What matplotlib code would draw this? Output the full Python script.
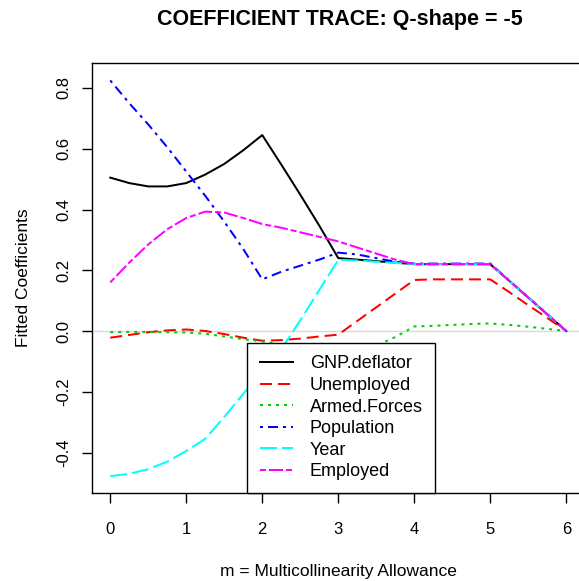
import numpy as np
import matplotlib
matplotlib.use("Agg")
import matplotlib.pyplot as plt

plt.rcParams['font.family'] = ['Liberation Sans', 'DejaVu Sans']
plt.rcParams['lines.scale_dashes'] = False

# multicollinearity allowance grid
m = np.arange(0, 6.01, 0.25)

names = ["GNP.deflator", "Unemployed", "Armed.Forces", "Population", "Year", "Employed"]

gnp = [0.505, 0.487, 0.476, 0.476, 0.487, 0.515, 0.550, 0.595, 0.645, 0.548, 0.449,
       0.347, 0.240, 0.235, 0.230, 0.225, 0.220, 0.220, 0.220, 0.220, 0.220, 0.165,
       0.110, 0.055, 0.0]
unemp = [-0.022, -0.013, -0.004, 0.002, 0.005, 0.000, -0.010, -0.022, -0.032, -0.030,
         -0.025, -0.018, -0.012, 0.033, 0.078, 0.123, 0.168, 0.170, 0.170, 0.170, 0.170,
         0.128, 0.085, 0.043, 0.0]
armed = [-0.004, -0.003, -0.003, -0.004, -0.005, -0.009, -0.018, -0.027, -0.034, -0.045,
         -0.062, -0.078, -0.087, -0.070, -0.048, -0.020, 0.015, 0.017, 0.020, 0.023, 0.025,
         0.020, 0.014, 0.007, 0.0]
popn = [0.825, 0.750, 0.680, 0.605, 0.525, 0.445, 0.360, 0.270, 0.170, 0.195, 0.215,
        0.235, 0.258, 0.252, 0.240, 0.228, 0.222, 0.222, 0.222, 0.222, 0.222, 0.166,
        0.111, 0.055, 0.0]
year = [-0.478, -0.470, -0.455, -0.430, -0.395, -0.355, -0.283, -0.207, -0.129, -0.060,
        0.035, 0.135, 0.234, 0.232, 0.228, 0.224, 0.220, 0.220, 0.220, 0.220, 0.220,
        0.165, 0.110, 0.055, 0.0]
employed = [0.160, 0.225, 0.285, 0.335, 0.372, 0.393, 0.390, 0.372, 0.352, 0.340, 0.325,
            0.310, 0.295, 0.275, 0.255, 0.235, 0.220, 0.220, 0.220, 0.220, 0.220, 0.165,
            0.110, 0.055, 0.0]

series = [gnp, unemp, armed, popn, year, employed]
colors = ["black", "#ff0000", "#00cd00", "#0000ff", "#00ffff", "#ff00ff"]
px = 0.72  # points per pixel at dpi 100
dashes = [None, (12, 6), (3, 5), (3, 5, 10, 5), (17, 5), (6, 3, 14, 3)]

fig = plt.figure(figsize=(5.79, 5.81), dpi=100)
ax = fig.add_axes([92 / 579, 88 / 581, 492.5 / 579, 430 / 581])

ax.axhline(0, color="#d9d9d9", lw=1)
for y, c, d, nm in zip(series, colors, dashes, names):
    ln, = ax.plot(m, y, color=c, lw=2 * px, label=nm)
    if d is not None:
        ln.set_dashes([v * px for v in d])

ax.set_xlim(-0.24, 6.24)
ax.set_ylim(-0.5333, 0.8823)
ax.set_xticks(range(7))
ax.set_yticks([-0.4, -0.2, 0.0, 0.2, 0.4, 0.6, 0.8])
ax.set_yticklabels(["-0.4", "-0.2", "0.0", "0.2", "0.4", "0.6", "0.8"], rotation=90, va="center")
ax.tick_params(length=7, width=1, labelsize=12)
ax.tick_params(axis="x", pad=14)
ax.tick_params(axis="y", pad=8)
for s in ax.spines.values():
    s.set_linewidth(1)

ax.set_xlabel("m = Multicollinearity Allowance", fontsize=12.5, labelpad=19)
ax.set_ylabel("Fitted Coefficients", fontsize=12.5, labelpad=18)
fig.text(340 / 579, 1 - 20 / 581, "COEFFICIENT TRACE: Q-shape = -5", ha="center", va="center",
         fontsize=15.5, fontweight="bold")

leg = ax.legend(loc="lower left", bbox_to_anchor=(247 / 579, 88 / 581), bbox_transform=fig.transFigure,
                fontsize=13, frameon=True, fancybox=False, edgecolor="black", framealpha=1,
                handlelength=1.83, handletextpad=0.94, labelspacing=0.255, borderpad=0.7,
                borderaxespad=0)
leg.get_frame().set_linewidth(1)

fig.savefig("out.png", dpi=100)
